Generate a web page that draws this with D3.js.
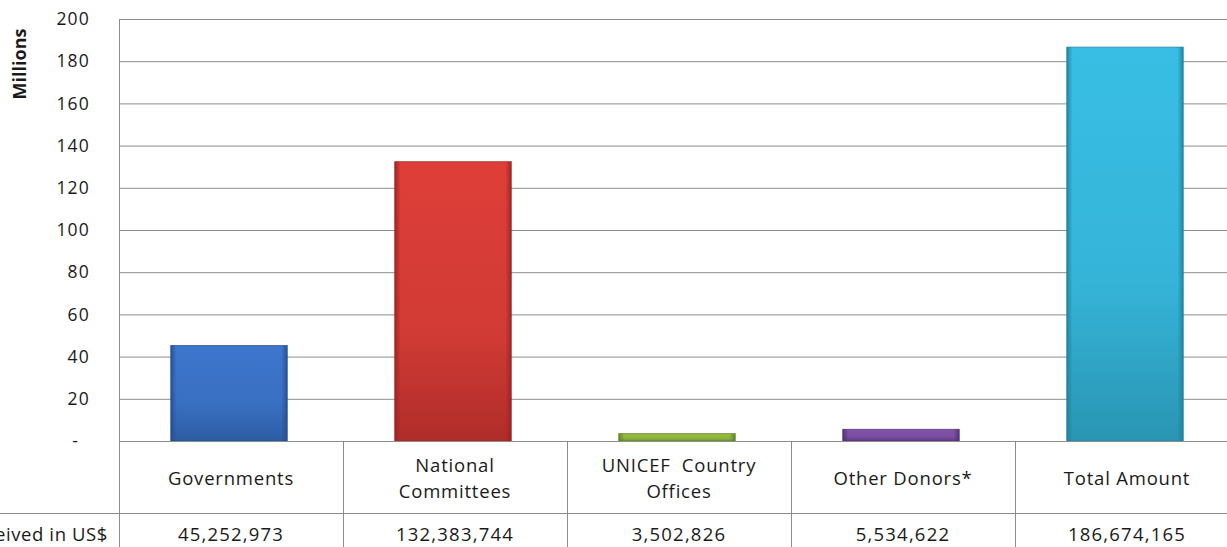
<!DOCTYPE html>
<html><head><meta charset="utf-8">
<script src="https://cdn.jsdelivr.net/npm/d3@7"></script>
<style>
body{margin:0;background:#fff;}
svg{display:block;}
text{font-family:"Open Sans",Lato,sans-serif;fill:#1a1a1a;}
</style></head>
<body>
<svg id="c" width="1227" height="547"></svg>
<script>
const categories = ["Governments","National Committees","UNICEF Country Offices","Other Donors*","Total Amount"];
const labelLines = [["Governments"],["National","Committees"],["UNICEF  Country","Offices"],["Other Donors*"],["Total Amount"]];
const amounts = [45252973,132383744,3502826,5534622,186674165];
const amountLabels = ["45,252,973","132,383,744","3,502,826","5,534,622","186,674,165"];
const yTicks = [0,20,40,60,80,100,120,140,160,180,200];
const colors = ["#3a70c2","#d23b35","#8db43c","#7a4fa2","#35b4d8"];
const darkColors = ["#244f8f","#9a2422","#5f8027","#523174","#21809a"];
const rowHeader = "Amount Received in US$";

const svg = d3.select("#c");
const L = 119, R = 1239, T = 19, B = 441, tableMid = 513, tableBot = 560;
const x = d3.scaleBand().domain(categories).range([L, R]).padding(0);
const y = d3.scaleLinear().domain([0, 200]).range([B, T]);

const defs = svg.append("defs");
categories.forEach((c, i) => {
  const g = defs.append("linearGradient").attr("id", "gv" + i).attr("x1", 0).attr("x2", 0).attr("y1", 0).attr("y2", 1);
  g.append("stop").attr("offset", 0).attr("stop-color", d3.color(colors[i]).brighter(0.15));
  g.append("stop").attr("offset", 0.6).attr("stop-color", colors[i]);
  g.append("stop").attr("offset", 1).attr("stop-color", d3.interpolateRgb(colors[i], darkColors[i])(0.6));
  const h = defs.append("linearGradient").attr("id", "gh" + i);
  h.append("stop").attr("offset", 0).attr("stop-color", darkColors[i]).attr("stop-opacity", 0.9);
  h.append("stop").attr("offset", 0.05).attr("stop-color", darkColors[i]).attr("stop-opacity", 0);
  h.append("stop").attr("offset", 0.95).attr("stop-color", darkColors[i]).attr("stop-opacity", 0);
  h.append("stop").attr("offset", 1).attr("stop-color", darkColors[i]).attr("stop-opacity", 0.9);
});

// gridlines
const yAxis = d3.axisLeft(y).tickValues(yTicks).tickSize(-(R - L)).tickFormat(d => d === 0 ? "-" : d3.format("d")(d));
const ga = svg.append("g").attr("transform", `translate(${L},0)`).call(yAxis);
ga.select(".domain").remove();
ga.selectAll(".tick line").attr("stroke", "#8c8c8c").attr("stroke-width", 1);
ga.selectAll(".tick text").attr("x", -29).attr("font-size", 17.5).attr("letter-spacing", 1.2).attr("fill", "#1a1a1a")
  .style("font-family", "'Open Sans',sans-serif");
ga.selectAll(".tick").filter(d => d === 0).select("text").attr("x", -40);
// plot frame left
svg.append("line").attr("x1", L + 0.5).attr("x2", L + 0.5).attr("y1", T).attr("y2", tableBot).attr("stroke", "#8c8c8c");

// bars
const bw = x.bandwidth() * 0.52;
const bars = svg.append("g");
categories.forEach((c, i) => {
  const v = amounts[i] / 1e6;
  const bx = x(c) + x.bandwidth() / 2 - bw / 2 - 2;
  bars.append("rect").attr("x", bx).attr("y", y(v)).attr("width", bw).attr("height", B - y(v))
    .attr("fill", `url(#gv${i})`);
  bars.append("rect").attr("x", bx).attr("y", y(v)).attr("width", bw).attr("height", B - y(v))
    .attr("fill", `url(#gh${i})`).attr("stroke", darkColors[i]).attr("stroke-width", 1).attr("stroke-opacity", 0.7);
});

// table lines
const tl = svg.append("g").attr("stroke", "#8c8c8c").attr("stroke-width", 1);
tl.append("line").attr("x1", L).attr("x2", R).attr("y1", B + 0.5).attr("y2", B + 0.5);
tl.append("line").attr("x1", 0).attr("x2", R).attr("y1", tableMid + 0.5).attr("y2", tableMid + 0.5);
categories.forEach(c => {
  tl.append("line").attr("x1", x(c) + x.bandwidth() + 0.5).attr("x2", x(c) + x.bandwidth() + 0.5)
    .attr("y1", B).attr("y2", tableBot);
});

// category labels
categories.forEach((c, i) => {
  const cx = x(c) + x.bandwidth() / 2;
  const lines = labelLines[i];
  const t = svg.append("text").attr("text-anchor", "middle").attr("font-size", 18.5).attr("letter-spacing", 0.8);
  lines.forEach((ln, j) => {
    const base = lines.length === 1 ? 485 : 472 + j * 26;
    t.append("tspan").attr("x", cx).attr("y", base).text(ln).style("white-space", "pre");
  });
  svg.append("text").attr("x", cx).attr("y", 541).attr("text-anchor", "middle").attr("font-size", 18.5)
    .attr("letter-spacing", 1.2).text(amountLabels[i]);
});
svg.append("text").attr("x", 108).attr("y", 541).attr("text-anchor", "end").attr("font-size", 18.5)
  .attr("letter-spacing", 0.6).text(rowHeader);

// y title
svg.append("text").attr("transform", "translate(26,64) rotate(-90)").attr("text-anchor", "middle")
  .attr("font-size", 18).attr("font-weight", "bold").text("Millions");
</script>
</body></html>
